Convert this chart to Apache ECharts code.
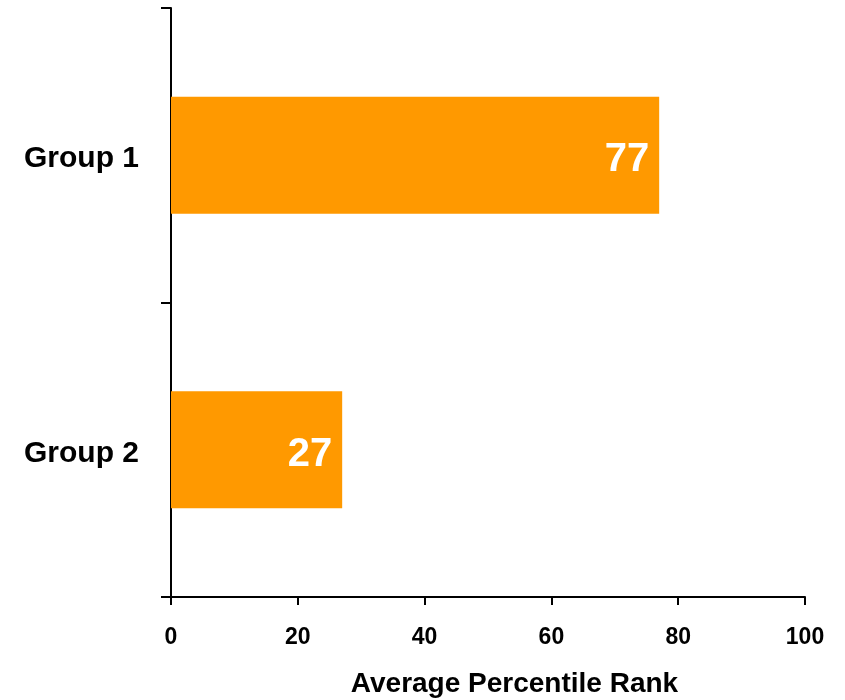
<!DOCTYPE html>
<html>
<head>
<meta charset="utf-8">
<script src="https://cdn.jsdelivr.net/npm/echarts@6/dist/echarts.min.js"></script>
<style>
html,body{margin:0;padding:0;background:#fff;}
#chart{width:845px;height:700px;}
</style>
</head>
<body>
<div id="chart"></div>
<script>
const categories = ['Group 1', 'Group 2'];
const values = [77, 27];
const xTicks = [0, 20, 40, 60, 80, 100];
const axisTitle = 'Average Percentile Rank';

const chart = echarts.init(document.getElementById('chart'), null, {renderer: 'canvas'});
const font = '"Liberation Sans", Arial, Helvetica, sans-serif';
chart.setOption({
  animation: false,
  backgroundColor: '#ffffff',
  grid: {left: 171, right: 40, top: 8, bottom: 103, containLabel: false, outerBoundsMode: 'none'},
  xAxis: {
    type: 'value',
    min: xTicks[0],
    max: xTicks[xTicks.length - 1],
    interval: xTicks[1] - xTicks[0],
    splitLine: {show: false},
    axisLine: {show: true, onZero: false, lineStyle: {color: '#000', width: 2}},
    axisTick: {show: true, length: 8, lineStyle: {color: '#000', width: 2}},
    axisLabel: {color: '#000', fontSize: 23, fontWeight: 'bold', fontFamily: font, margin: 29},
    name: axisTitle,
    nameLocation: 'middle',
    nameGap: 73,
    nameTextStyle: {color: '#000', fontSize: 28, fontWeight: 'bold', fontFamily: font, padding: [0, 0, 0, 53]}
  },
  yAxis: {
    type: 'category',
    data: categories,
    inverse: true,
    axisLine: {show: true, lineStyle: {color: '#000', width: 2}},
    axisTick: {show: true, length: 10, lineStyle: {color: '#000', width: 2}},
    axisLabel: {
      color: '#000', fontSize: 30, fontWeight: 'bold', fontFamily: font, margin: 32,
      formatter: '{a|{value}}',
      rich: {a: {color: '#000', fontSize: 30, fontWeight: 'bold', fontFamily: font, lineHeight: 30, padding: [7, 0, 0, 0]}}
    }
  },
  series: [{
    type: 'bar',
    data: values,
    barWidth: 117,
    itemStyle: {color: '#FF9900'},
    label: {
      show: true,
      position: 'insideRight',
      distance: 10,
      offset: [0, 5],
      color: '#fff',
      fontSize: 40,
      fontWeight: 'bold',
      fontFamily: font
    }
  }]
});
</script>
</body>
</html>
